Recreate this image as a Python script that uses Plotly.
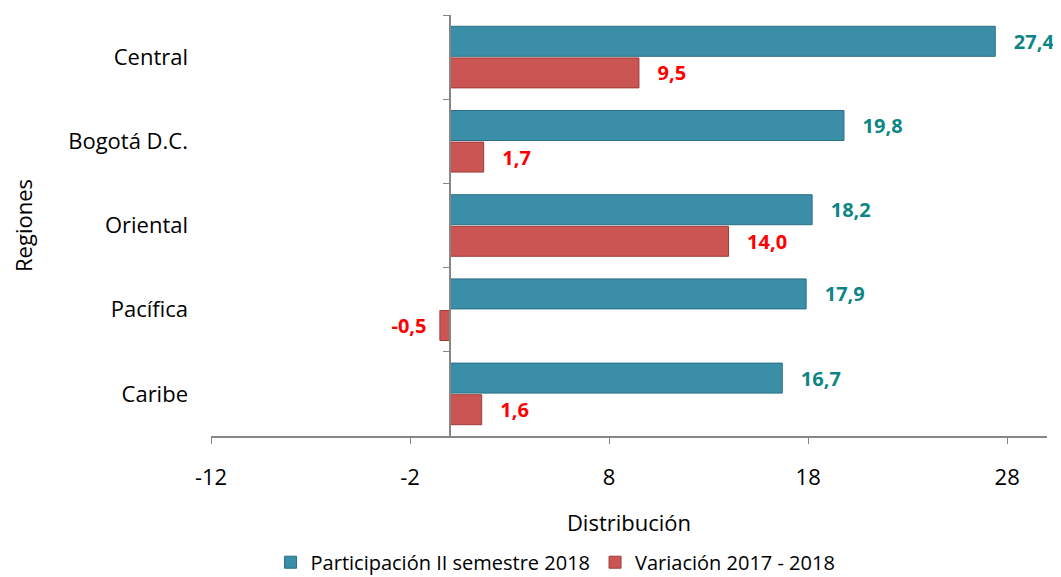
import plotly.graph_objects as go

regiones = ["Central", "Bogotá D.C.", "Oriental", "Pacífica", "Caribe"]
participacion = [27.4, 19.8, 18.2, 17.9, 16.7]
variacion = [9.5, 1.7, 14.0, -0.5, 1.6]
x_ticks = [-12, -2, 8, 18, 28]
serie1 = "Participación II semestre 2018"
serie2 = "Variación 2017 - 2018"

FONT = "Open Sans"
AXIS = "#868686"
NB = "\u00a0"


def fmt(v):
    s = f"{v:.1f}".replace(".", ",")
    return (NB * 3 + s) if v >= 0 else (s + NB * 2)


fig = go.Figure()
fig.add_trace(go.Bar(
    y=regiones, x=participacion, orientation="h", name=serie1,
    marker=dict(color="#3A8EA8", line=dict(color="#2A6F84", width=1)),
    text=[fmt(v) for v in participacion], texttemplate="%{text}",
    textposition="outside", cliponaxis=False,
    textfont=dict(family=FONT, size=20, color="#0E8585", weight="bold"),
    hoverinfo="skip",
))
fig.add_trace(go.Bar(
    y=regiones, x=variacion, orientation="h", name=serie2,
    marker=dict(color="#CB5552", line=dict(color="#9E3C3A", width=1)),
    text=[fmt(v) for v in variacion], texttemplate="%{text}",
    textposition="outside", cliponaxis=False,
    textfont=dict(family=FONT, size=20, color="#FF0000", weight="bold"),
    hoverinfo="skip",
))
# helper trace for the category axis drawn at x = 0
fig.add_trace(go.Scatter(
    y=regiones, x=[0] * len(regiones), yaxis="y2", mode="markers",
    marker=dict(opacity=0), showlegend=False, hoverinfo="skip",
))

x_min, x_max = -12, 30
pos0 = (0 - x_min) / (x_max - x_min)

fig.update_layout(
    width=1053, height=569,
    margin=dict(l=203, r=14, t=7, b=141, autoexpand=False),
    paper_bgcolor="white", plot_bgcolor="white",
    barmode="group", bargap=0.25, bargroupgap=0.05,
    font=dict(family=FONT, size=22, color="#000000"),
    showlegend=True,
    xaxis=dict(
        range=[x_min, x_max], tickvals=x_ticks,
        ticktext=[str(t) for t in x_ticks],
        showgrid=False, zeroline=False, automargin=False,
        showline=True, linecolor=AXIS, linewidth=1.5,
        ticks="outside", ticklen=6, tickcolor=AXIS, ticklabelstandoff=15,
        tickfont=dict(size=22),
        title=dict(text="Distribución", standoff=25, font=dict(size=22)),
    ),
    yaxis=dict(
        type="category", categoryarray=regiones, range=[4.5, -0.5],
        showgrid=False, zeroline=False, showline=False, ticks="",
        automargin=False, ticklabelstandoff=22, tickfont=dict(size=22),
        title=dict(text="Regiones", standoff=32, font=dict(size=22)),
    ),
    yaxis2=dict(
        type="category", categoryarray=regiones, range=[4.5, -0.5],
        overlaying="y", anchor="free", position=pos0, side="left",
        showgrid=False, zeroline=False, showline=True, linecolor=AXIS,
        linewidth=1.5, ticks="outside", ticklen=6, tickcolor=AXIS,
        tickson="boundaries", showticklabels=False, automargin=False,
    ),
    legend=dict(
        orientation="h", x=0.52, xanchor="center", xref="container",
        y=0.026, yanchor="middle", yref="container",
        font=dict(size=20), itemwidth=30, tracegroupgap=0,
    ),
)

fig.write_html("out.html")
